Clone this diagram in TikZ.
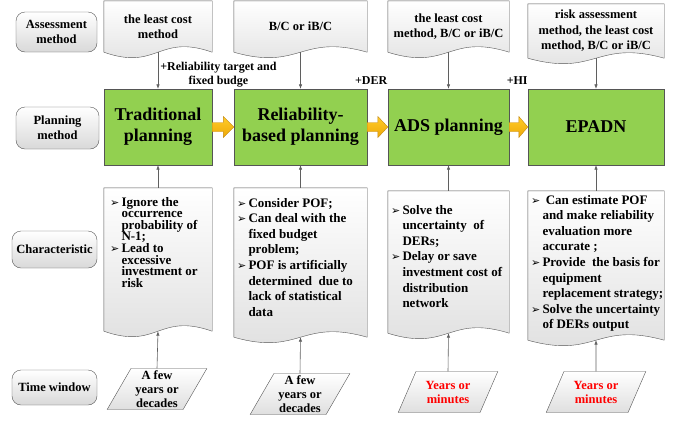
\documentclass[tikz,border=0pt]{standalone}
\usepackage{fontspec}
\setmainfont{Liberation Serif}
\newfontfamily\symfont{DejaVu Sans}
\usetikzlibrary{shapes.geometric,arrows.meta,calc,backgrounds}

\definecolor{planGreen}{RGB}{146,208,80}
\definecolor{edgeGray}{RGB}{85,85,85}
\definecolor{lineGray}{RGB}{95,95,95}
\definecolor{arrTop}{RGB}{255,204,40}
\definecolor{arrBot}{RGB}{238,168,8}
\definecolor{arrEdge}{RGB}{196,136,16}
\definecolor{timeRed}{RGB}{255,0,0}

% one bulleted line, one continued line
\newcommand{\li}[1]{\makebox[11.5pt][l]{\symfont\fontsize{11}{11}\selectfont ➢}\mbox{#1}}
\newcommand{\lc}[1]{\hspace*{11.5pt}\mbox{#1}}
\newcommand{\docshape}[1]{%
  \path[docfill] (#1.north west) -- (#1.north east) -- (#1.south east)
    .. controls ([yshift=19pt]#1.south) and ([yshift=-19pt]#1.south) .. (#1.south west) -- cycle;}
\newcommand{\blockarrow}[2]{%
  \path[blockfill] let \p1=(#1.east), \p2=(#2.west), \n1={0.52*(\x2-\x1)} in
    (\x1,\y1+4.5pt) -- (\x1+\n1,\y1+4.5pt) -- (\x1+\n1,\y1+10.5pt) -- (\x2,\y1)
    -- (\x1+\n1,\y1-10.5pt) -- (\x1+\n1,\y1-4.5pt) -- (\x1,\y1-4.5pt) -- cycle;}

\begin{document}
\begin{tikzpicture}[x=1pt,y=-1pt,
    rowlabel/.style={rounded corners=9pt,draw=edgeGray,top color=white,bottom color=gray!30,
      align=center,inner sep=1pt,font=\fontsize{12.5}{15}\selectfont\bfseries},
    planbox/.style={draw=edgeGray,fill=planGreen,minimum height=76pt,align=center,inner sep=0pt,
      font=\fontsize{18}{21}\selectfont\bfseries},
    docbox/.style={inner sep=0pt,align=center,font=\fontsize{12.5}{15.5}\selectfont\bfseries},
    docfill/.style={draw=edgeGray,top color=white,bottom color=gray!25},
    timebox/.style={trapezium,trapezium left angle=62,trapezium right angle=118,trapezium stretches=true,
      draw=edgeGray,top color=white,bottom color=gray!25,align=center,inner sep=1pt,minimum height=41pt,
      minimum width=100pt,font=\fontsize{12.5}{14}\selectfont\bfseries},
    blockfill/.style={draw=arrEdge,top color=arrTop,bottom color=arrBot},
    conn/.style={draw=lineGray,line width=0.6pt,-{Latex[length=4.5pt,width=3.5pt]}},
    lbl/.style={font=\fontsize{12}{14}\selectfont\bfseries,inner sep=2pt}]
  \useasboundingbox (0,0) rectangle (681,424);

  % row labels
  \node[rowlabel,minimum width=81pt,minimum height=40pt] (am) at (56.5,32) {Assessment\\method};
  \node[rowlabel,minimum width=83pt,minimum height=42pt] (pm) at (57.5,128) {Planning\\method};
  \node[rowlabel,minimum width=85pt,minimum height=37pt] (ch) at (54.5,249.5) {Characteristic};
  \node[rowlabel,minimum width=85pt,minimum height=35pt] (tw) at (54.5,387.5) {Time window};

  % assessment methods
  \node[docbox,minimum width=108pt,minimum height=51pt] (m1) at (158,26.5) {the least cost\\method};
  \node[docbox,minimum width=133pt,minimum height=51pt] (m2) at (300.5,26.5) {B/C or iB/C};
  \node[docbox,minimum width=121pt,minimum height=51pt] (m3) at (448.5,26.5) {the least cost\\method, B/C or iB/C};
  \node[docbox,minimum width=136pt,minimum height=54pt] (m4) at (596,31) {risk assessment\\method, the least cost\\method, B/C or iB/C};

  % planning methods
  \node[planbox,minimum width=108pt] (p1) at (158,127) {Traditional\\planning};
  \node[planbox,minimum width=133pt] (p2) at (300.5,127) {Reliability-\\based planning};
  \node[planbox,minimum width=121pt] (p3) at (448.5,127) {ADS planning};
  \node[planbox,minimum width=136pt] (p4) at (596,127) {EPADN};

  % characteristics
  \node[docbox,minimum width=108pt,minimum height=143pt] (c1) at (158,259.5)
    {\parbox[c][125pt][t]{96pt}{\fontsize{13}{11.6}\selectfont\raggedright
      \li{Ignore the}\\ \lc{occurrence}\\ \lc{probability of}\\ \lc{N-1;}\\
      \li{Lead to}\\ \lc{excessive}\\ \lc{investment or}\\ \lc{risk}}};
  \node[docbox,minimum width=133pt,minimum height=149pt] (c2) at (300.5,262.5)
    {\parbox[c][129pt][t]{127pt}{\fontsize{13}{15.6}\selectfont\raggedright
      \li{Consider POF;}\\ \li{Can deal with the}\\ \lc{fixed budget}\\ \lc{problem;}\\
      \li{POF is artificially}\\ \lc{determined\ \ due to}\\ \lc{lack of statistical}\\ \lc{data}}};
  \node[docbox,minimum width=121pt,minimum height=142pt] (c3) at (448.5,262)
    {\parbox[c][114pt][t]{115pt}{\fontsize{13}{15.6}\selectfont\raggedright
      \li{Solve the}\\ \lc{uncertainty\ \ of}\\ \lc{DERs;}\\
      \li{Delay or save}\\ \lc{investment cost of}\\ \lc{distribution}\\ \lc{network}}};
  \node[docbox,minimum width=136pt,minimum height=149pt] (c4) at (596,265.5)
    {\parbox[c][141pt][t]{130pt}{\fontsize{13}{15.6}\selectfont\raggedright
      \li{\ Can estimate POF}\\ \lc{and make reliability}\\ \lc{evaluation more}\\ \lc{accurate ;}\\
      \li{Provide\ \ the basis for}\\ \lc{equipment}\\ \lc{replacement strategy;}\\
      \li{Solve the uncertainty}\\ \lc{of DERs output}}};

  % time windows
  \node[timebox] (t1) at (157,389) {A few\\years or\\decades};
  \node[timebox] (t2) at (300,394) {A few\\years or\\decades};
  \node[timebox,text=timeRed] (t3) at (448,392) {Years or\\minutes};
  \node[timebox,text=timeRed] (t4) at (596,392) {Years or\\minutes};

  \begin{pgfonlayer}{background}
    \foreach \d in {m1,m2,m3,m4,c1,c2,c3,c4} {\docshape{\d}}
  \end{pgfonlayer}

  % evolution arrows
  \blockarrow{p1}{p2}
  \blockarrow{p2}{p3}
  \blockarrow{p3}{p4}
  \node[lbl] (der) at ([xshift=4pt,yshift=8pt]p2.north east) {+DER};
  \node[lbl] (hi) at ([xshift=8pt,yshift=8pt]p3.north east) {+HI};

  % connectors
  \draw[conn] (m1.south) -- (p1.north)
    node[lbl,midway,right,align=center,yshift=-4pt] {+Reliability target and\\fixed budge};
  \foreach \i in {2,3,4} \draw[conn] (m\i.south) -- (p\i.north);
  \foreach \i in {1,...,4} {
    \draw[conn] (c\i.north) -- (p\i.south);
    \draw[conn] (t\i.north) -- (c\i.south);
  }
\end{tikzpicture}
\end{document}
